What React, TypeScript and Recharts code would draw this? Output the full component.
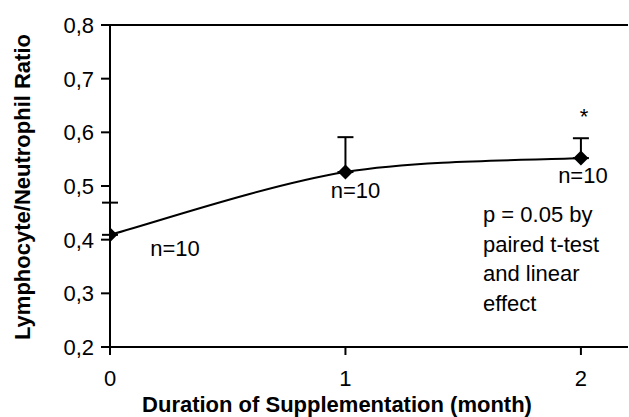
import { LineChart, Line, XAxis, YAxis, ErrorBar, LabelList, ReferenceLine } from 'recharts';

const months = [0, 1, 2];
const ratio = [0.409, 0.526, 0.552];
const errUp = [0.06, 0.065, 0.037];
const nLabels = ['n=10', 'n=10', 'n=10'];
const stars = ['', '', '*'];
const yTicks = [0.2, 0.3, 0.4, 0.5, 0.6, 0.7, 0.8];
const xTicks = [0, 1, 2];
const noteLines = ['p = 0.05 by', 'paired t-test', 'and linear', 'effect'];

const data = months.map((m, i) => ({
  month: m,
  ratio: ratio[i],
  err: [0, errUp[i]],
  n: nLabels[i],
  star: stars[i],
}));

const FONT = '"Liberation Sans", Arial, sans-serif';

// where each "n=10" sits relative to its point
const nOffsets = [
  { dx: 65, dy: 21 },
  { dx: 10, dy: 26 },
  { dx: 2, dy: 25 },
];

// smoothed line like a spreadsheet's "smoothed" option (catmull-rom style)
const smoothCurve = (context: any) => {
  let pts: number[][] = [];
  return {
    areaStart() {},
    areaEnd() {},
    lineStart() {
      pts = [];
    },
    point(x: number, y: number) {
      pts.push([+x, +y]);
    },
    lineEnd() {
      if (!pts.length) return;
      context.moveTo(pts[0][0], pts[0][1]);
      const t = 1 / 6;
      for (let i = 0; i < pts.length - 1; i++) {
        const p0 = pts[i - 1] || pts[i];
        const p1 = pts[i];
        const p2 = pts[i + 1];
        const p3 = pts[i + 2] || p2;
        context.bezierCurveTo(
          p1[0] + (p2[0] - p0[0]) * t,
          p1[1] + (p2[1] - p0[1]) * t,
          p2[0] - (p3[0] - p1[0]) * t,
          p2[1] - (p3[1] - p1[1]) * t,
          p2[0],
          p2[1]
        );
      }
    },
  };
};

const Diamond = (props: any) => {
  const { cx, cy, index } = props;
  if (cx == null || cy == null) return <g key={`d-${index}`} />;
  const r = 7.5;
  return (
    <path
      key={`d-${index}`}
      d={`M${cx},${cy - r}L${cx + r},${cy}L${cx},${cy + r}L${cx - r},${cy}Z`}
      fill="#000"
    />
  );
};

const NLabel = (props: any) => {
  const { x, y, index, value } = props;
  const o = nOffsets[index] || { dx: 0, dy: 20 };
  return (
    <text x={x + o.dx} y={y + o.dy} textAnchor="middle" fontSize={22} fontFamily={FONT} fill="#000">
      {value}
    </text>
  );
};

const StarLabel = (props: any) => {
  const { x, y, value } = props;
  if (!value) return null;
  return (
    <text x={x + 3} y={y - 34} textAnchor="middle" fontSize={22} fontFamily={FONT} fill="#000">
      {value}
    </text>
  );
};

const XTick = (props: any) => {
  const { x, y, payload } = props;
  return (
    <text x={x} y={y + 29} textAnchor="middle" fontSize={22} fontFamily={FONT} fill="#000">
      {payload.value}
    </text>
  );
};

const YTick = (props: any) => {
  const { x, y, payload } = props;
  return (
    <text x={x - 5} y={y + 8} textAnchor="end" fontSize={22} fontFamily={FONT} fill="#000">
      {Number(payload.value).toFixed(1).replace('.', ',')}
    </text>
  );
};

export default function App() {
  return (
    <div style={{ position: 'absolute', left: 0, top: 0, width: 629, height: 417, background: '#fff' }}>
      <LineChart width={629} height={417} data={data} margin={{ top: 25, right: 1, left: 0, bottom: 0 }}>
        <XAxis
          dataKey="month"
          type="number"
          domain={[0, 2.2]}
          ticks={xTicks}
          allowDataOverflow
          axisLine={{ stroke: '#000', strokeWidth: 2 }}
          tickLine={{ stroke: '#000', strokeWidth: 2 }}
          tickSize={8}
          tick={XTick}
          height={70}
          label={{
            value: 'Duration of Supplementation (month)',
            position: 'insideBottom',
            offset: 5,
            dx: -32,
            style: { fill: '#000', fontSize: 22, fontWeight: 'bold', fontFamily: FONT },
          }}
        />
        <YAxis
          type="number"
          domain={[0.2, 0.8]}
          ticks={yTicks}
          width={110}
          axisLine={{ stroke: '#000', strokeWidth: 2 }}
          tickLine={{ stroke: '#000', strokeWidth: 2 }}
          tickSize={9}
          tick={YTick}
          label={{
            value: 'Lymphocyte/Neutrophil Ratio',
            angle: -90,
            position: 'insideLeft',
            offset: 22,
            dy: 154,
            style: { fill: '#000', fontSize: 22, fontWeight: 'bold', fontFamily: FONT },
          }}
        />
        <ReferenceLine y={0.8} stroke="#000" strokeWidth={2} />
        <Line
          type={smoothCurve as any}
          dataKey="ratio"
          stroke="#000"
          strokeWidth={2}
          dot={Diamond}
          activeDot={false}
          isAnimationActive={false}
        >
          <ErrorBar dataKey="err" direction="y" width={8} stroke="#000" strokeWidth={2} />
          <LabelList dataKey="n" content={NLabel} />
          <LabelList dataKey="star" content={StarLabel} />
        </Line>
      </LineChart>
      <div
        style={{
          position: 'absolute',
          left: 483,
          top: 200,
          fontFamily: FONT,
          fontSize: 22,
          lineHeight: '29.5px',
          color: '#000',
          whiteSpace: 'nowrap',
        }}
      >
        {noteLines.map((t) => (
          <div key={t}>{t}</div>
        ))}
      </div>
    </div>
  );
}
